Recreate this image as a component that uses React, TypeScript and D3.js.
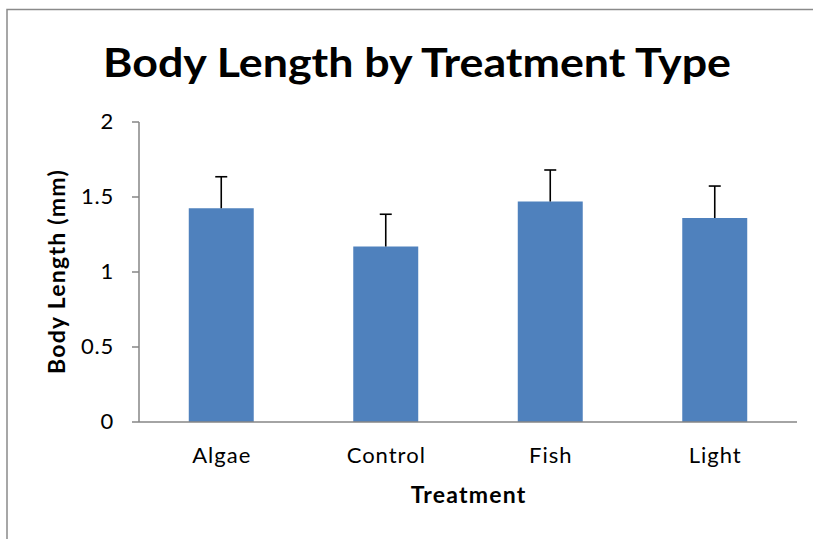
import React from "react";
import * as d3 from "d3";

const categories = ["Algae", "Control", "Fish", "Light"];
const means = [1.425, 1.17, 1.47, 1.36];
const errors = [0.21, 0.215, 0.21, 0.213];
const yTicks = [0, 0.5, 1, 1.5, 2];
const title = "Body Length by Treatment Type";
const xTitle = "Treatment";
const yTitle = "Body Length (mm)";

const W = 813;
const H = 539;
const FONT = "Lato, 'Open Sans', sans-serif";

export default function App() {
  const plot = { left: 139, right: 797, top: 122, bottom: 422 };
  const x = d3
    .scaleBand<string>()
    .domain(categories)
    .range([plot.left, plot.right])
    .paddingInner(0.605)
    .paddingOuter(0.3025);
  const y = d3.scaleLinear().domain([0, 2]).range([plot.bottom, plot.top]);
  const axisColor = "#868686";
  const capHalf = 6;

  return (
    <svg
      width={W}
      height={H}
      style={{ position: "absolute", left: 0, top: 0, background: "#fff" }}
    >
      <rect x={7} y={9.5} width={W + 10} height={H + 10} fill="#fff" stroke="#8a8a8a" strokeWidth={1.5} />
      <text
        x={417}
        y={77}
        textAnchor="middle"
        fontFamily={FONT}
        fontWeight="bold"
        fontSize={40}
        textLength={628}
        lengthAdjust="spacingAndGlyphs"
        fill="#000"
      >
        {title}
      </text>
      {categories.map((c, i) => (
        <rect
          key={c}
          x={x(c)}
          y={y(means[i])}
          width={x.bandwidth()}
          height={y(0) - y(means[i])}
          fill="#4F81BD"
        />
      ))}
      {categories.map((c, i) => {
        const cx = (x(c) as number) + x.bandwidth() / 2;
        return (
          <g key={c} stroke="#000" strokeWidth={1.6}>
            <line x1={cx} x2={cx} y1={y(means[i])} y2={y(means[i] + errors[i])} />
            <line x1={cx - capHalf} x2={cx + capHalf} y1={y(means[i] + errors[i])} y2={y(means[i] + errors[i])} />
          </g>
        );
      })}
      <line x1={plot.left} x2={plot.left} y1={plot.top} y2={plot.bottom} stroke={axisColor} strokeWidth={1.5} />
      <line x1={plot.left} x2={plot.right} y1={plot.bottom} y2={plot.bottom} stroke={axisColor} strokeWidth={1.5} />
      {yTicks.map((t) => (
        <g key={t}>
          <line x1={plot.left - 7} x2={plot.left} y1={y(t)} y2={y(t)} stroke={axisColor} strokeWidth={1.5} />
          <text
            x={114}
            y={y(t) + 7}
            textAnchor="end"
            fontFamily={FONT}
            fontSize={22}
            letterSpacing={0.8}
            fill="#000"
          >
            {String(t)}
          </text>
        </g>
      ))}
      {categories.map((c) => (
        <text
          key={c}
          x={(x(c) as number) + x.bandwidth() / 2 + 0.5}
          y={463}
          textAnchor="middle"
          fontFamily={FONT}
          fontSize={22}
          letterSpacing={1}
          fill="#000"
        >
          {c}
        </text>
      ))}
      <text
        x={(plot.left + plot.right) / 2 + 0.6}
        y={503}
        textAnchor="middle"
        fontFamily={FONT}
        fontWeight="bold"
        fontSize={23}
        letterSpacing={1.2}
        fill="#000"
      >
        {xTitle}
      </text>
      <text
        transform={`translate(65, 271.5) rotate(-90)`}
        textAnchor="middle"
        fontFamily={FONT}
        fontWeight="bold"
        fontSize={23}
        letterSpacing={1.25}
        fill="#000"
      >
        {yTitle}
      </text>
    </svg>
  );
}
